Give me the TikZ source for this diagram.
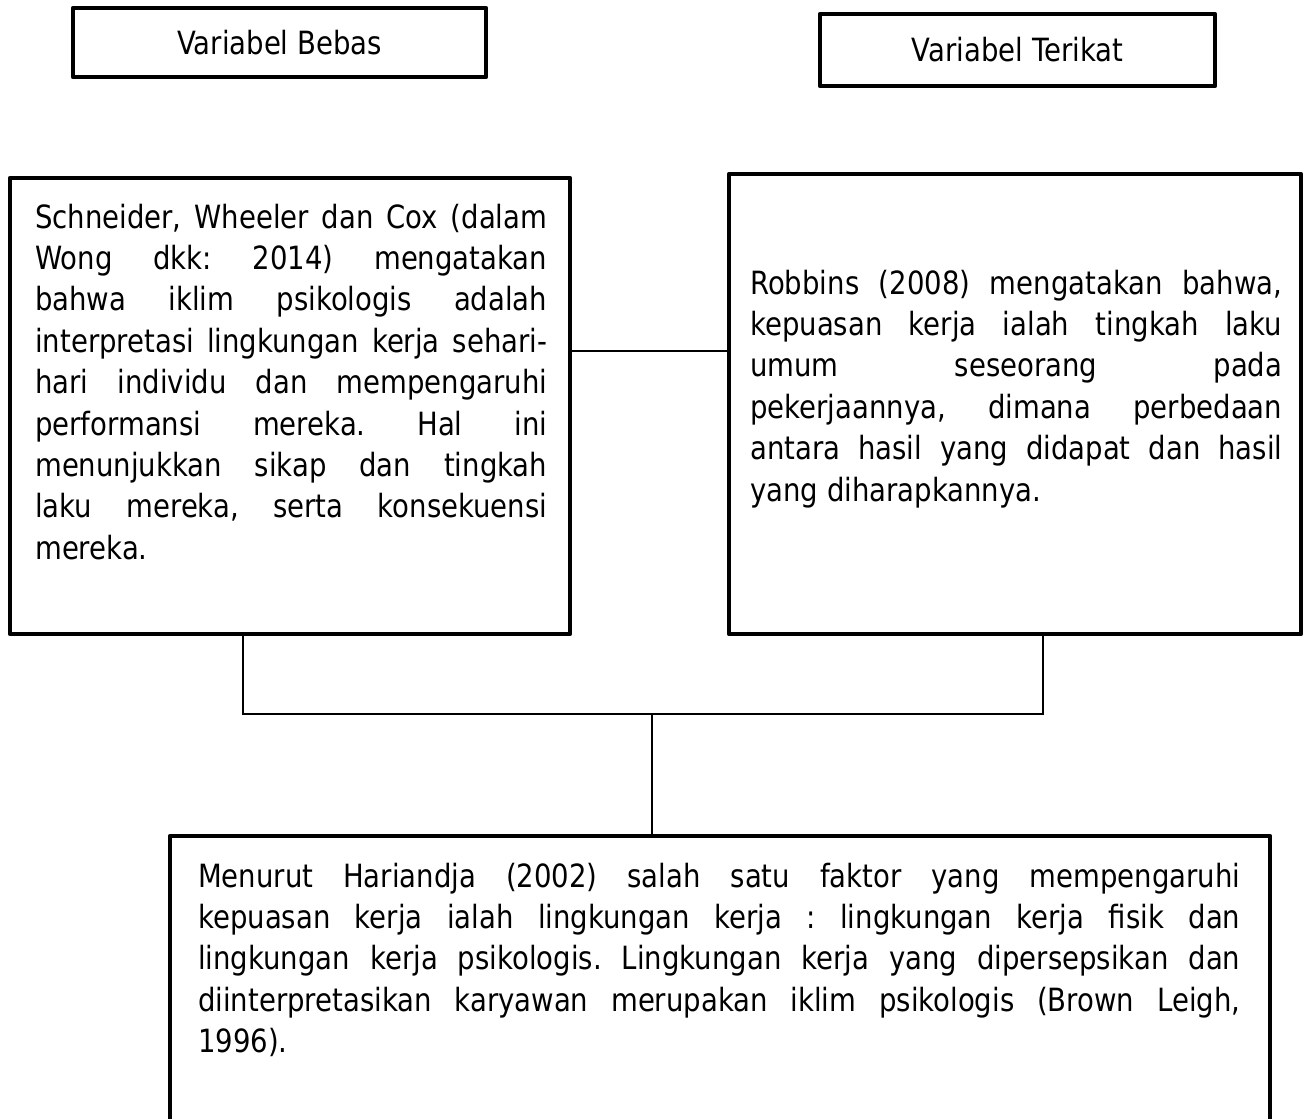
\documentclass[tikz,border=0pt]{standalone}
\usepackage{fontspec}
\setmainfont{DejaVu Sans}[FakeStretch=0.86]
\frenchspacing
\begin{document}
\begin{tikzpicture}[x=1pt,y=-1pt]
\tikzset{
  box/.style={draw, line width=4.5pt, line join=round, inner sep=0pt},
  conn/.style={line width=2pt},
  txt/.style={font=\fontsize{32}{41.4}\selectfont, align=justify, inner sep=0pt, anchor=north west,
    execute at begin node={\parindent=0pt\hyphenpenalty=10000\hbadness=10000\tolerance=10000\frenchspacing}},
  lbl/.style={font=\fontsize{32}{38}\selectfont}
}
\useasboundingbox (0,0) rectangle (1304,1119);
\clip (0,0) rectangle (1304,1119);
% top labels
\node[box, lbl, minimum width=413pt, minimum height=69pt] (vb) at (279.5,42.5) {Variabel Bebas};
\node[box, lbl, minimum width=395pt, minimum height=72pt] (vt) at (1017.5,50) {Variabel Terikat};
% main boxes
\node[box, minimum width=560pt, minimum height=456pt] (L) at (290,406) {};
\node[box, minimum width=572pt, minimum height=460pt] (R) at (1015,404) {};
\node[box, minimum width=1100pt, minimum height=300pt] (B) at (720,986) {};
% texts
\node[txt, text width=512pt] (Lt) at (35,203.5) {Schneider, Wheeler dan Cox (dalam\linebreak
Wong dkk: 2014) mengatakan\linebreak
bahwa iklim psikologis adalah\linebreak
interpretasi lingkungan kerja sehari-\linebreak
hari individu dan mempengaruhi\linebreak
performansi mereka. Hal ini\linebreak
menunjukkan sikap dan tingkah\linebreak
laku mereka, serta konsekuensi\linebreak
mereka.};
\node[txt, text width=532pt] (Rt) at (750,269.5) {Robbins (2008) mengatakan bahwa,\linebreak
kepuasan kerja ialah tingkah laku\linebreak
umum seseorang pada\linebreak
pekerjaannya, dimana perbedaan\linebreak
antara hasil yang didapat dan hasil\linebreak
yang diharapkannya.};
\node[txt, text width=1042pt] (Bt) at (198,862.5) {Menurut Hariandja (2002) salah satu faktor yang mempengaruhi\linebreak
kepuasan kerja ialah lingkungan kerja : lingkungan kerja fisik dan\linebreak
lingkungan kerja psikologis. Lingkungan kerja yang dipersepsikan dan\linebreak
diinterpretasikan karyawan merupakan iklim psikologis (Brown Leigh,\linebreak
1996).};
% connectors
\coordinate (h) at (0,351);
\coordinate (jl) at (243,714);
\coordinate (jr) at (1043,714);
\coordinate (jm) at (652,714);
\draw[conn] (L.east |- h) -- (R.west |- h);
\draw[conn] (L.south -| jl) -- (jl) -- (jr) -- (R.south -| jr);
\draw[conn] (jm) -- (B.north -| jm);
\end{tikzpicture}
\end{document}
